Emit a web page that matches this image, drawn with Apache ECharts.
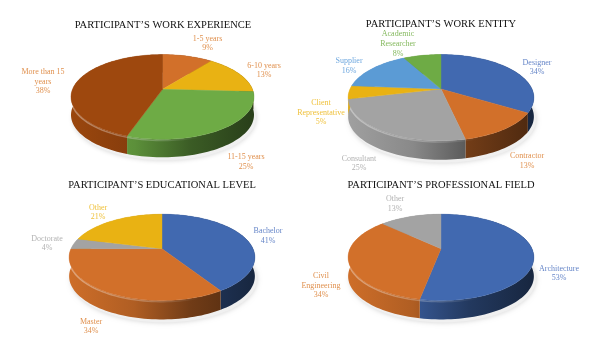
<!DOCTYPE html>
<html><head><meta charset="utf-8">
<style>html,body{margin:0;padding:0;background:#fff}#c{width:600px;height:355px;filter:blur(0.3px)}</style>
<script src="https://cdn.jsdelivr.net/npm/echarts@6/dist/echarts.min.js"></script>
</head><body><div id="c"></div>
<script>
const experienceNames = ['1-5 years', '6-10 years', '11-15 years', 'More than 15\nyears'];
const experienceValues = [9, 13, 25, 38];
const entityNames = ['Designer', 'Contractor', 'Consultant', 'Client\nRepresentative', 'Supplier', 'Academic\nResearcher'];
const entityValues = [34, 13, 25, 5, 16, 8];
const educationNames = ['Bachelor', 'Master', 'Doctorate', 'Other'];
const educationValues = [41, 34, 4, 21];
const fieldNames = ['Architecture', 'Civil\nEngineering', 'Other'];
const fieldValues = [53, 34, 13];
const chartTitles = ['PARTICIPANT’S WORK EXPERIENCE', 'PARTICIPANT’S WORK ENTITY', 'PARTICIPANT’S EDUCATIONAL LEVEL', 'PARTICIPANT’S PROFESSIONAL FIELD'];

const BLUE='#4169B0',ORANGE='#D2702A',GREY='#A3A3A3',YEL='#E9B213',LBLUE='#5B9BD5',GREEN='#6EAB45',BROWN='#9E480E';
const LAB={[BLUE]:'#6686C8',[ORANGE]:'#E0914F',[GREY]:'#B2B2B2',[YEL]:'#EFC13C',[LBLUE]:'#6FA8DF',[GREEN]:'#85B95F',[BROWN]:'#E0914F'};
const pies=[
 {title:[163,26],cx:162.5,cy:89.3,R:90,Rs:41,k:.18,d:18,names:experienceNames,values:experienceValues,colors:[ORANGE,YEL,GREEN,BROWN],labelColor:'#E0914F',
  labels:[[207.5,43.5],[264,70.5],[246,162],[43,81.5]]},
 {title:[441,25],cx:441,cy:89,R:91,Rs:41.4,k:.2,d:19,names:entityNames,values:entityValues,colors:[BLUE,ORANGE,GREY,YEL,LBLUE,GREEN],
  labels:[[537,67.5],[527,161],[359,163.5],[321,112.5],[349,66],[398,44]]},
 {title:[162,186],cx:162,cy:248.7,R:91,Rs:41.4,k:.2,d:19,names:educationNames,values:educationValues,colors:[BLUE,ORANGE,GREY,YEL],
  labels:[[268,236],[91,326.5],[47,243.5],[98,212.5]]},
 {title:[441,186],cx:441,cy:248.7,R:91,Rs:41.4,k:.2,d:19,names:fieldNames,values:fieldValues,colors:[BLUE,ORANGE,GREY],
  labels:[[559,273.5],[321,285.5],[395,204]]}
];
const rows=[];
pies.forEach((p,i)=>{p.total=p.values.reduce((a,b)=>a+b,0);let c=0;p.starts=p.values.map(v=>{const s=c;c+=v;return s;});
 p.values.forEach((v,j)=>rows.push([i,j,v]));});

function pt(p,a){const u=Math.sin(a),v=-Math.cos(a),w=1-p.k*v;return [p.cx+p.R*u/w,p.cy+p.Rs*v/w];}
function arc(p,a0,a1){const n=Math.max(2,Math.ceil((a1-a0)/(Math.PI/90)));const o=[];for(let i=0;i<=n;i++)o.push(pt(p,a0+(a1-a0)*i/n));return o;}
function angles(p,j,val){const t=2*Math.PI/p.total;const a0=p.starts[j]*t;return [a0,a0+val*t];}
function shade(hex,m){const n=parseInt(hex.slice(1),16);const f=s=>Math.round(((n>>s)&255)*m);return `rgb(${f(16)},${f(8)},${f(0)})`;}
function lg(p,stops){return new echarts.graphic.LinearGradient(p.cx-p.R*1.03,0,p.cx+p.R*1.03,0,stops,true);}

function renderWall(params,api){
 const p=pies[api.value(0)],j=api.value(1),val=api.value(2),[a0,a1]=angles(p,j,val),col=p.colors[j];
 const top=arc(p,a0,a1),bot=top.map(q=>[q[0],q[1]+p.d]).reverse();
 const kids=[];
 if(j===0){
  const ring=arc(p,0,2*Math.PI).map(q=>[q[0]+2,q[1]+p.d+3]);
  kids.push({type:'polygon',shape:{points:ring},style:{fill:'#f0f0f0',shadowBlur:5,shadowColor:'rgba(0,0,0,0.18)'}});
 }
 kids.push({type:'polygon',shape:{points:top.concat(bot)},style:{fill:lg(p,[
   {offset:0,color:shade(col,.98)},{offset:.35,color:shade(col,.84)},{offset:.65,color:shade(col,.54)},{offset:1,color:shade(col,.36)}])}});
 kids.push({type:'polyline',shape:{points:top.map(q=>[q[0],q[1]+1.2])},style:{fill:null,lineWidth:1.6,stroke:lg(p,[
   {offset:0,color:'rgba(255,255,255,0.38)'},{offset:.45,color:'rgba(255,255,255,0.22)'},{offset:.7,color:'rgba(255,255,255,0)'},{offset:1,color:'rgba(255,255,255,0)'}])}});
 return {type:'group',children:kids};
}
function renderTop(params,api){
 const p=pies[api.value(0)],j=api.value(1),val=api.value(2),[a0,a1]=angles(p,j,val),col=p.colors[j];
 const pts=[[p.cx,p.cy]].concat(arc(p,a0,a1));
 const l=p.labels[j];
 return {type:'group',children:[
  {type:'polygon',shape:{points:pts},style:{fill:col,stroke:col,lineWidth:.4}},
  {type:'text',z2:5,style:{text:p.names[j]+'\n'+val+'%',x:l[0],y:l[1],align:'center',verticalAlign:'middle',
    fill:p.labelColor||LAB[col],fontFamily:'Liberation Serif',fontSize:8,lineHeight:9.6}}
 ]};
}
const chart=echarts.init(document.getElementById('c'),null,{renderer:'canvas'});
chart.setOption({
 animation:false,
 title:pies.map((p,i)=>({text:chartTitles[i],left:p.title[0],top:p.title[1]-6,textAlign:'center',padding:0,
   textStyle:{fontFamily:'Liberation Serif',fontSize:10.5,fontWeight:'normal',color:'#111'}})),
 series:[
  {type:'custom',coordinateSystem:'none',renderItem:renderWall,data:rows,silent:true,z:1},
  {type:'custom',coordinateSystem:'none',renderItem:renderTop,data:rows,silent:true,z:2}
 ]
});
</script></body></html>
